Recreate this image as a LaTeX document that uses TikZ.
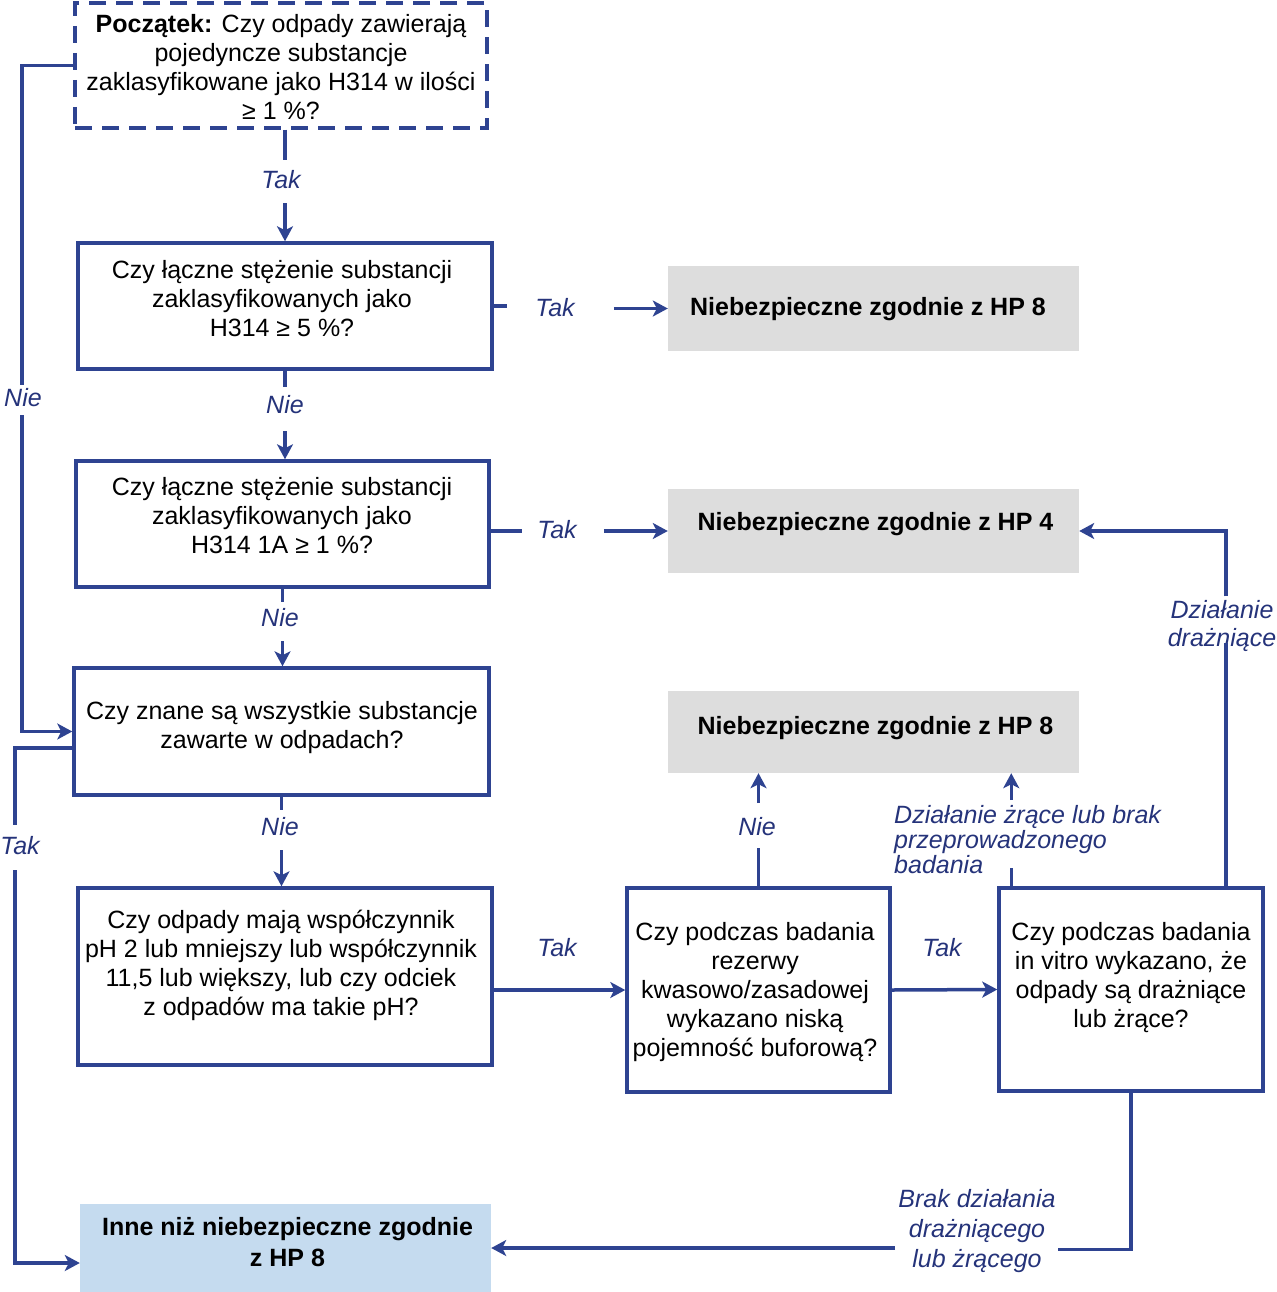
\documentclass[tikz,border=0pt]{standalone}
\usepackage{fontspec}
\setmainfont{Liberation Sans}
\usetikzlibrary{arrows.meta,calc}
\definecolor{lineblue}{HTML}{2E4391}
\definecolor{labblue}{HTML}{25337A}
\definecolor{greybox}{HTML}{DDDDDD}
\definecolor{lightblue}{HTML}{C5DBEF}
\begin{document}
\begin{tikzpicture}[x=1pt,y=-1pt,
  box/.style={draw=lineblue,line width=3.5pt,inner sep=0pt},
  dbox/.style={box,dash pattern=on 17pt off 10pt},
  gbox/.style={fill=greybox,inner sep=0pt},
  lbbox/.style={fill=lightblue,inner sep=0pt},
  txt/.style={align=center,font=\fontsize{25}{29}\selectfont,inner sep=0pt},
  btxt/.style={align=center,font=\fontsize{25}{31}\selectfont\bfseries,inner sep=0pt},
  lab/.style={font=\fontsize{25}{25}\selectfont\itshape,text=labblue,inner sep=0pt},
  conn/.style={draw=lineblue,line width=3.5pt},
  arr/.style={conn,-{Stealth[length=15pt,width=16pt,inset=4pt]}},
]
\useasboundingbox (0,0) rectangle (1276,1292);
% boxes
\node[dbox,minimum width=412pt,minimum height=125pt] (b1) at (281,65.5) {};
\node[box,minimum width=414pt,minimum height=126pt] (b2) at (285,306) {};
\node[box,minimum width=413pt,minimum height=126pt] (b3) at (282.5,524) {};
\node[box,minimum width=415pt,minimum height=127pt] (b4) at (281.5,731.5) {};
\node[box,minimum width=414pt,minimum height=177pt] (b5) at (285,976.5) {};
\node[box,minimum width=263pt,minimum height=204pt] (b6) at (758.5,990) {};
\node[box,minimum width=264pt,minimum height=203pt] (b7) at (1131,989.5) {};
\node[lbbox,minimum width=411pt,minimum height=88pt] (fin) at (285.5,1248) {};
\node[gbox,minimum width=411pt,minimum height=85pt] (g1) at (873.5,308.5) {};
\node[gbox,minimum width=411pt,minimum height=84pt] (g2) at (873.5,531) {};
\node[gbox,minimum width=411pt,minimum height=82pt] (g3) at (873.5,732) {};
% texts
\node[txt] (t1) at (281,67.5) {\textbf{Początek:} Czy odpady zawierają\\pojedyncze substancje\\zaklasyfikowane jako H314 w ilości\\≥ 1 \%?};
\node[txt] (t2) at (282,299) {Czy łączne stężenie substancji\\zaklasyfikowanych jako\\H314 ≥ 5 \%?};
\node[txt] (t3) at (282,516) {Czy łączne stężenie substancji\\zaklasyfikowanych jako\\H314 1A ≥ 1 \%?};
\node[txt] (t4) at (282,727.5) {Czy znane są wszystkie substancje\\zawarte w odpadach?};
\node[txt] (t5) at (281,965) {Czy odpady mają współczynnik\\pH 2 lub mniejszy lub współczynnik\\11,5 lub większy, lub czy odciek\\z odpadów ma takie pH?};
\node[txt] (t6) at (755,992) {Czy podczas badania\\rezerwy\\kwasowo/zasadowej\\wykazano niską\\pojemność buforową?};
\node[txt] (t7) at (1131,978) {Czy podczas badania\\in vitro wykazano, że\\odpady są drażniące\\lub żrące?};
\node[btxt] (tg1) at (868,309) {Niebezpieczne zgodnie z HP 8};
\node[btxt] (tg2) at (875.5,524) {Niebezpieczne zgodnie z HP 4};
\node[btxt] (tg3) at (875.5,728) {Niebezpieczne zgodnie z HP 8};
\node[btxt] (tfin) at (287.5,1242.5) {Inne niż niebezpieczne zgodnie\\z HP 8};
% labels
\node[lab] (l1) at (281,180) {Tak};
\node[lab] (l2) at (555,308) {Tak};
\node[lab] (l3) at (285,405) {Nie};
\node[lab] (l4) at (557,530) {Tak};
\node[lab] (l5) at (280,618) {Nie};
\node[lab] (l6) at (23,398) {Nie};
\node[lab] (l7) at (20,846) {Tak};
\node[lab] (l8) at (280,827) {Nie};
\node[lab] (l9) at (557,948) {Tak};
\node[lab] (l10) at (942,948) {Tak};
\node[lab] (l11) at (757,827) {Nie};
\node[lab,align=left,anchor=west] (l12) at (894,840) {Działanie żrące lub brak\\przeprowadzonego\\badania};
\node[lab,align=center,font=\fontsize{25}{28}\selectfont\itshape] (l13) at (1222,626) {Działanie\\drażniące};
\node[lab,align=center,font=\fontsize{25}{30}\selectfont\itshape] (l14) at (977,1231) {Brak działania\\drażniącego\\lub żrącego};
% connectors
\draw[conn] (b2.north |- b1.south) -- ++(0,30);
\draw[arr] ($(b2.north)+(0,-38)$) -- (b2.north);
\draw[conn] (b2.east) -- ++(13,0);
\draw[arr] ($(g1.west)+(-54,0)$) -- (g1.west);
\draw[conn] (b2.south) -- ++(0,16);
\draw[arr] ($(b2.south |- b3.north)+(0,-28)$) -- (b2.south |- b3.north);
\draw[conn] (b3.east |- g2.west) -- ++(31,0);
\draw[arr] ($(g2.west)+(-64,0)$) -- (g2.west);
\draw[conn] (b3.south) -- ++(0,13);
\draw[arr] ($(b3.south |- b4.north)+(0,-25)$) -- (b3.south |- b4.north);
\coordinate (c6a) at (22,385);
\coordinate (c6b) at (22,415);
\draw[conn] (b1.west) -| (c6a);
\draw[arr] (c6b) |- (b4.west);
\coordinate (c7a) at (15,825);
\coordinate (c7b) at (15,870);
\draw[conn] ($(b4.west)+(0,16.5)$) -| (c7a);
\draw[arr] (c7b) |- ($(fin.west)+(0,15)$);
\draw[conn] (b4.south) -- ++(0,13);
\draw[arr] ($(b4.south |- b5.north)+(0,-36)$) -- (b4.south |- b5.north);
\draw[arr] (b6.west -| b5.east) -- (b6.west);
\draw[arr] (b6.east) -- (b7.west);
\draw[conn] (b6.north) -- ++(0,-38);
\draw[arr] ($(b6.north |- g3.south)+(0,30)$) -- (b6.north |- g3.south);
\draw[conn] ($(b7.north west)+(14,0)$) -- ++(0,-18);
\draw[arr] ($(b7.north west |- g3.south)+(14,27)$) -- ($(b7.north west |- g3.south)+(14,0)$);
\draw[conn] ($(b7.north east)+(-39,0)$) -- ++(0,-243);
\draw[arr] ($(b7.north east)+(-39,-290)$) |- (g2.east);
\draw[conn] (b7.south) -- ++(0,156.5) -- ++(-73,0);
\draw[arr] ($(fin.east)+(404,0)$) -- (fin.east);
\end{tikzpicture}
\end{document}
